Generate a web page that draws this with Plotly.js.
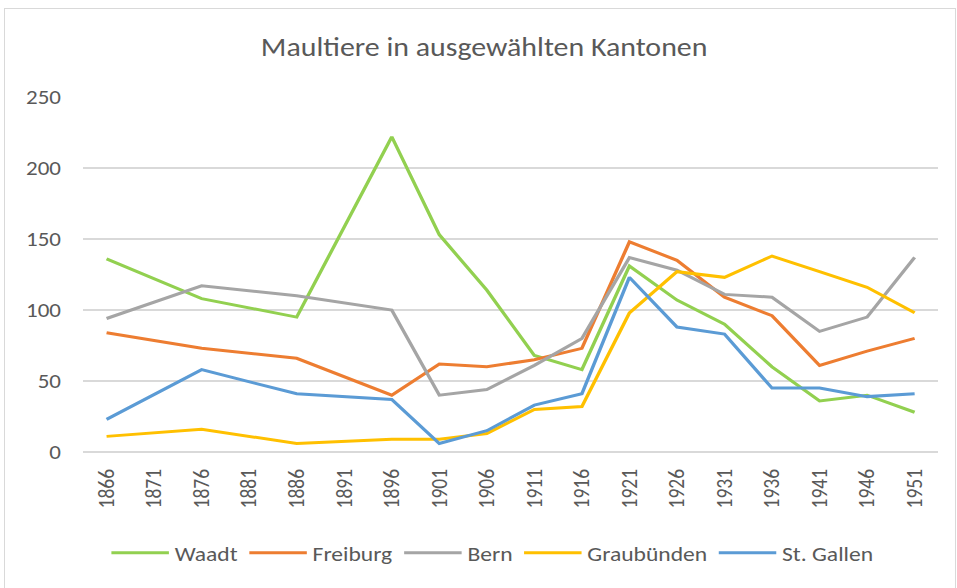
<!DOCTYPE html>
<html>
<head>
<meta charset="utf-8">
<script src="https://cdn.plot.ly/plotly-3.0.1.min.js"></script>
<style>
  html, body { margin: 0; padding: 0; background: #fff; overflow: hidden; }
  #wrap { position: absolute; left: 0; top: 0; width: 957px; height: 588px; overflow: hidden; }
  #chart { position: absolute; left: 0; top: 0; width: 832px; height: 588px; transform: scaleX(1.15); transform-origin: 0 0; }
  #frame { position: absolute; left: 4px; top: 8px; width: 950px; height: 590px; border: 1px solid #d9d9d9; pointer-events: none; }
</style>
</head>
<body>
<div id="wrap">
  <div id="chart"></div>
  <div id="frame"></div>
</div>
<script>
const years = ["1866","1871","1876","1881","1886","1891","1896","1901","1906","1911","1916","1921","1926","1931","1936","1941","1946","1951"];
const waadt      = [136, null, 108, null, 95, null, 222, 153, 114, 68, 58, 131, 107, 90, 60, 36, 40, 28];
const freiburg   = [84, null, 73, null, 66, null, 40, 62, 60, 65, 73, 148, 135, 109, 96, 61, 71, 80];
const bern       = [94, null, 117, null, 110, null, 100, 40, 44, 61, 80, 137, 128, 111, 109, 85, 95, 137];
const graubuenden= [11, null, 16, null, 6, null, 9, 9, 13, 30, 32, 98, 127, 123, 138, 127, 116, 98];
const stgallen   = [23, null, 58, null, 41, null, 37, 6, 15, 33, 41, 123, 88, 83, 45, 45, 39, 41];

const names  = ["Waadt", "Freiburg", "Bern", "Graubünden", "St. Gallen"];
const series = [waadt, freiburg, bern, graubuenden, stgallen];
const colors = ["#92d050", "#ed7d31", "#a5a5a5", "#ffc000", "#5b9bd5"];

const FONT = "Carlito, 'Liberation Sans Narrow', 'Open Sans', sans-serif";

const traces = series.map((s, i) => ({
  type: "scatter",
  mode: "lines",
  name: names[i],
  x: years,
  y: s,
  connectgaps: true,
  line: { color: colors[i], width: 3 }
}));

const layout = {
  width: 832,
  height: 588,
  paper_bgcolor: "#ffffff",
  plot_bgcolor: "#ffffff",
  margin: { l: 72, r: 16, t: 97, b: 136 },
  font: { family: FONT, color: "#595959", size: 19 },
  title: {
    text: "Maultiere in ausgewählten Kantonen",
    font: { family: FONT, size: 26, color: "#595959" },
    x: 0.506, xanchor: "center",
    y: 1 - 47/588, yanchor: "middle", yref: "container"
  },
  xaxis: {
    type: "category",
    range: [-0.5, 17.5],
    tickangle: -90,
    showgrid: false,
    showline: false,
    zeroline: false,
    ticks: "",
    ticklabelstandoff: 12,
    tickfont: { family: FONT, size: 19.5, color: "#595959" },
    fixedrange: true
  },
  yaxis: {
    range: [0, 250],
    dtick: 50,
    showgrid: true,
    gridcolor: "#d9d9d9",
    gridwidth: 1.5,
    zeroline: true,
    zerolinecolor: "#d9d9d9",
    zerolinewidth: 1.5,
    showline: false,
    ticks: "",
    ticklabelstandoff: 18,
    tickfont: { family: FONT, size: 20, color: "#595959" },
    fixedrange: true
  },
  legend: {
    orientation: "h",
    x: 0.479, xanchor: "center",
    y: -(553 - 452) / (452 - 97), yanchor: "middle",
    font: { family: FONT, size: 20.5, color: "#595959" },
    itemwidth: 50,
    traceorder: "normal"
  },
  showlegend: true
};

Plotly.newPlot("chart", traces, layout, { displayModeBar: false, staticPlot: true });
</script>
</body>
</html>
